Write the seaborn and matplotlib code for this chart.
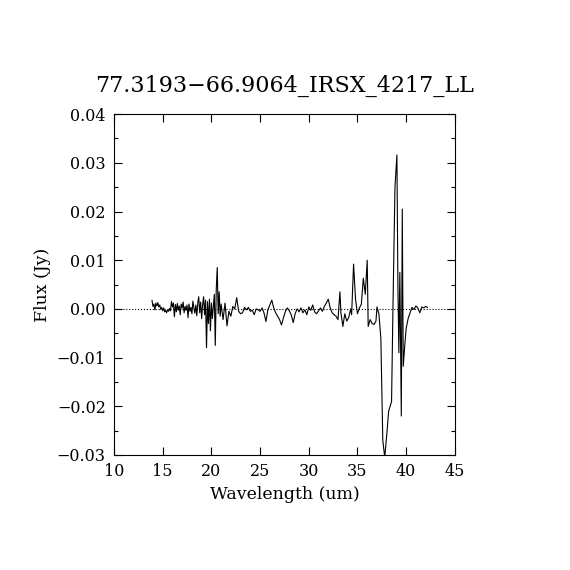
"""
Spectrum plot of 77.3193-66.9064 IRSX 4217 LL
"""

import numpy as np
import pandas as pd
import matplotlib
matplotlib.use('Agg')
import matplotlib.pyplot as plt
from matplotlib.ticker import MultipleLocator, FuncFormatter
import seaborn as sns

title_text = '77.3193\u221266.9064_IRSX_4217_LL'
x_label = 'Wavelength (um)'
y_label = 'Flux (Jy)'

# wavelength (um), short-wavelength order
wave_short = [13.90, 14.00, 14.10, 14.20, 14.30, 14.40, 14.50, 14.60, 14.70, 14.80,
              14.90, 15.00, 15.10, 15.20, 15.30, 15.40, 15.50, 15.60, 15.70, 15.80,
              15.90, 16.00, 16.10, 16.20, 16.30, 16.40, 16.50, 16.60, 16.70, 16.80,
              16.90, 17.00, 17.10, 17.20, 17.30, 17.40, 17.50, 17.60, 17.70, 17.80,
              17.90, 18.00, 18.10, 18.20, 18.30, 18.40, 18.50, 18.60, 18.70, 18.80,
              18.90, 19.00, 19.10, 19.20, 19.30, 19.40, 19.50, 19.60, 19.70, 19.80,
              19.90, 20.00, 20.10, 20.20, 20.30, 20.40, 20.50, 20.60, 20.70, 20.80,
              20.90, 21.00]
flux_short = [0.0018, 0.0005, 0.0010, -0.0002, 0.0012, 0.0006, 0.0013, 0.0004, 0.0008, -0.0001,
              0.0003, -0.0004, 0.0002, -0.0006, -0.0003, -0.0008, -0.0002, -0.0005, 0.0001, -0.0004,
              0.0015, 0.0004, 0.0012, -0.0016, 0.0009, -0.0006, 0.0011, -0.0003, 0.0006, -0.0012,
              0.0010, 0.0002, 0.0014, -0.0008, 0.0005, -0.0003, 0.0008, -0.0018, 0.0010, -0.0005,
              0.0003, -0.0010, 0.0016, 0.0002, -0.0009, 0.0008, -0.0014, 0.0012, 0.0025, -0.0008,
              0.0014, -0.0020, 0.0009, 0.0025, -0.0012, 0.0018, -0.0080, 0.0015, -0.0030, 0.0020,
              -0.0045, 0.0012, -0.0020, 0.0005, 0.0030, -0.0075, 0.0040, 0.0085, -0.0010, 0.0035,
              -0.0015, 0.0010]

# wavelength (um), long-wavelength order
wave_long = [21.2, 21.4, 21.6, 21.8, 22.0, 22.2, 22.4, 22.6, 22.8, 23.0,
             23.2, 23.4, 23.6, 23.8, 24.0, 24.2, 24.4, 24.6, 24.8, 25.0,
             25.2, 25.4, 25.6, 25.8, 26.0, 26.2, 26.4, 26.6, 26.8, 27.0,
             27.2, 27.4, 27.6, 27.8, 28.0, 28.2, 28.4, 28.6, 28.8, 29.0,
             29.2, 29.4, 29.6, 29.8, 30.0, 30.2, 30.4, 30.6, 30.8, 31.0,
             31.2, 31.4, 31.6, 31.8, 32.0, 32.2, 32.4, 32.6, 32.8, 33.0,
             33.2, 33.3, 33.5, 33.7, 33.9, 34.1, 34.3, 34.4, 34.6, 34.8,
             35.0, 35.2, 35.4, 35.6, 35.8, 36.0, 36.1, 36.3, 36.5, 36.7,
             36.9, 37.0, 37.2, 37.4, 37.6, 37.8, 38.0, 38.2, 38.5, 38.65,
             38.85, 39.05, 39.15, 39.25, 39.35, 39.5, 39.6, 39.7, 39.85, 40.0,
             40.2, 40.4, 40.6, 40.8, 41.0, 41.2, 41.4, 41.6, 41.8, 42.0,
             42.2]
flux_long = [-0.0022, 0.0012, -0.0035, -0.0005, -0.0015, 0.0005, 0.0000, 0.0023, -0.0005, -0.0010,
             -0.0008, 0.0003, -0.0002, 0.0003, -0.0005, -0.0003, -0.0012, 0.0000, -0.0002, -0.0005,
             0.0002, -0.0008, -0.0026, -0.0002, 0.0008, 0.0018, 0.0002, -0.0008, -0.0015, -0.0022,
             -0.0033, -0.0018, -0.0005, 0.0002, -0.0004, -0.0012, -0.0028, -0.0010, 0.0000, -0.0006,
             0.0002, -0.0008, -0.0002, -0.0012, 0.0004, -0.0003, 0.0008, -0.0006, -0.0010, -0.0004,
             0.0002, -0.0005, 0.0005, 0.0012, 0.0020, 0.0002, -0.0008, -0.0012, -0.0015, -0.0022,
             0.0035, -0.0008, -0.0036, -0.0010, -0.0025, -0.0018, 0.0000, -0.0012, 0.0092, 0.0020,
             -0.0010, 0.0002, 0.0010, 0.0063, 0.0030, 0.0100, -0.0036, -0.0022, -0.0030, -0.0032,
             -0.0025, 0.0004, -0.0010, -0.0060, -0.0270, -0.0305, -0.0260, -0.0210, -0.0190, 0.0010,
             0.0250, 0.0316, 0.0050, -0.0090, 0.0075, -0.0220, 0.0205, -0.0118, -0.0077, -0.0040,
             -0.0020, -0.0008, 0.0003, -0.0001, 0.0006, 0.0002, -0.0008, 0.0004, 0.0002, 0.0005,
             0.0003]

x_range = (10, 45)
y_range = (-0.03, 0.04)

spectrum = pd.DataFrame({'wave': wave_short + wave_long,
                         'flux': flux_short + flux_long})

sns.set_theme(style='ticks')
plt.rcParams['font.family'] = ['DejaVu Serif']
plt.rcParams['axes.unicode_minus'] = True

fig = plt.figure(figsize=(5.7, 5.7), dpi=100)
ax = fig.add_axes([0.2, 0.2018, 0.598, 0.598])

sns.lineplot(data=spectrum, x='wave', y='flux', sort=False, estimator=None,
             color='black', linewidth=0.8, ax=ax)
ax.axhline(0, color='black', linestyle=':', linewidth=0.8)

ax.set_xlim(*x_range)
ax.set_ylim(*y_range)
ax.xaxis.set_major_locator(MultipleLocator(5))
ax.yaxis.set_major_locator(MultipleLocator(0.01))
ax.yaxis.set_minor_locator(MultipleLocator(0.005))
ax.yaxis.set_major_formatter(FuncFormatter(lambda v, p: f'{v:.2f}'.replace('-', '\u2212')))

ax.tick_params(which='both', direction='in', top=True, right=True, color='black',
               labelsize=11.5, labelcolor='black', width=0.8, pad=6)
ax.tick_params(which='major', length=6)
ax.tick_params(which='minor', length=3)
for s in ax.spines.values():
    s.set_color('black')
    s.set_linewidth(0.8)

ax.set_xlabel(x_label, fontsize=12.5, color='black')
ax.set_ylabel(y_label, fontsize=12.5, color='black')
ax.set_title(title_text, fontsize=16, color='black', pad=16)

fig.savefig('out.png', dpi=100, facecolor='white')
